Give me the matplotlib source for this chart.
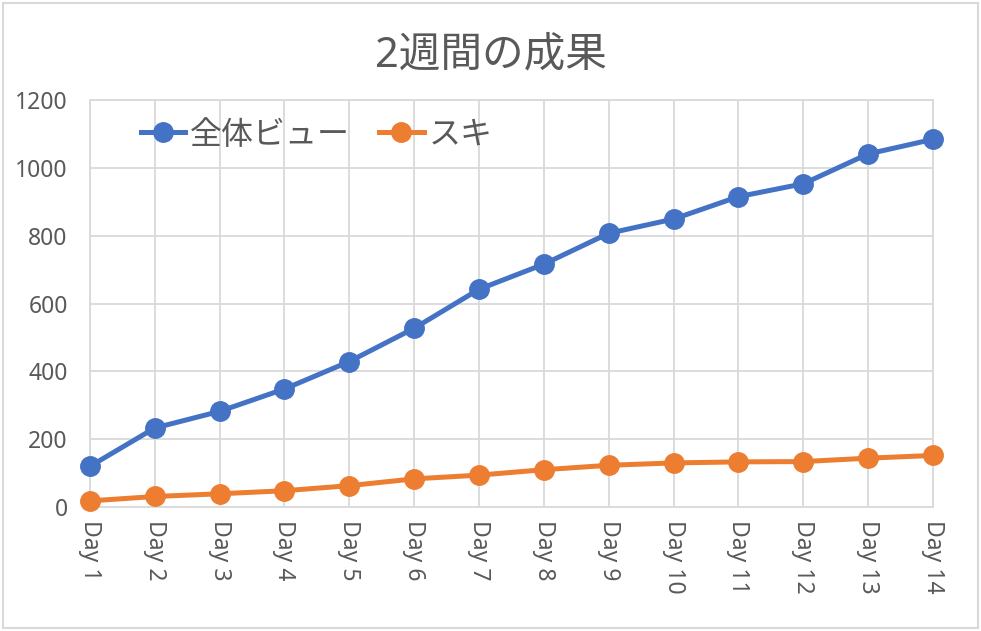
import matplotlib.pyplot as plt
from matplotlib.patches import Rectangle

plt.rcParams['font.family'] = ['Noto Sans', 'Noto Sans CJK JP', 'DejaVu Sans']

# Data
days = ['Day 1', 'Day 2', 'Day 3', 'Day 4', 'Day 5', 'Day 6', 'Day 7',
        'Day 8', 'Day 9', 'Day 10', 'Day 11', 'Day 12', 'Day 13', 'Day 14']
total_views = [120, 233, 282, 348, 429, 527, 642, 716, 807, 849, 915, 953, 1041, 1084]
likes = [18, 31, 39, 48, 63, 83, 94, 110, 123, 130, 133, 134, 144, 152]

title = '2週間の成果'
series_names = ['全体ビュー', 'スキ']
colors = ['#4472C4', '#ED7D31']
text_color = '#595959'
grid_color = '#D9D9D9'

fig = plt.figure(figsize=(9.81, 6.31), dpi=100)
ax = fig.add_axes([0.0917, 0.1965, 0.8593, 0.645])

x = list(range(len(days)))
for vals, name, c in zip([total_views, likes], series_names, colors):
    ax.plot(x, vals, color=c, lw=3.6, marker='o', markersize=14,
            label=name, clip_on=False, zorder=3)

ax.set_xlim(0, len(days) - 1)
ax.set_ylim(0, 1200)
ax.set_yticks(range(0, 1201, 200))
ax.set_xticks(x)
ax.set_xticklabels(days, rotation=-90, va='top', ha='center')

ax.grid(True, color=grid_color, lw=1.3, zorder=0)
for s in ax.spines.values():
    s.set_color(grid_color)
    s.set_linewidth(1.3)
ax.tick_params(axis='both', length=0, labelsize=16.5, labelcolor=text_color)
ax.tick_params(axis='y', pad=16)
ax.tick_params(axis='x', pad=9)

fig.text(0.5, 0.912, title, ha='center', va='center', fontsize=30, color=text_color)

leg = ax.legend(loc='center left', bbox_to_anchor=(0.045, 0.914), ncol=2,
                frameon=False, fontsize=23, handlelength=1.4,
                handletextpad=0.15, columnspacing=0.9, borderaxespad=0)
for t in leg.get_texts():
    t.set_color(text_color)

# outer chart border
fig.patches.append(Rectangle((0.003, 0.004), 0.994, 0.991, transform=fig.transFigure,
                             fill=False, edgecolor=grid_color, lw=1.5))

fig.savefig('out.png', dpi=100)
